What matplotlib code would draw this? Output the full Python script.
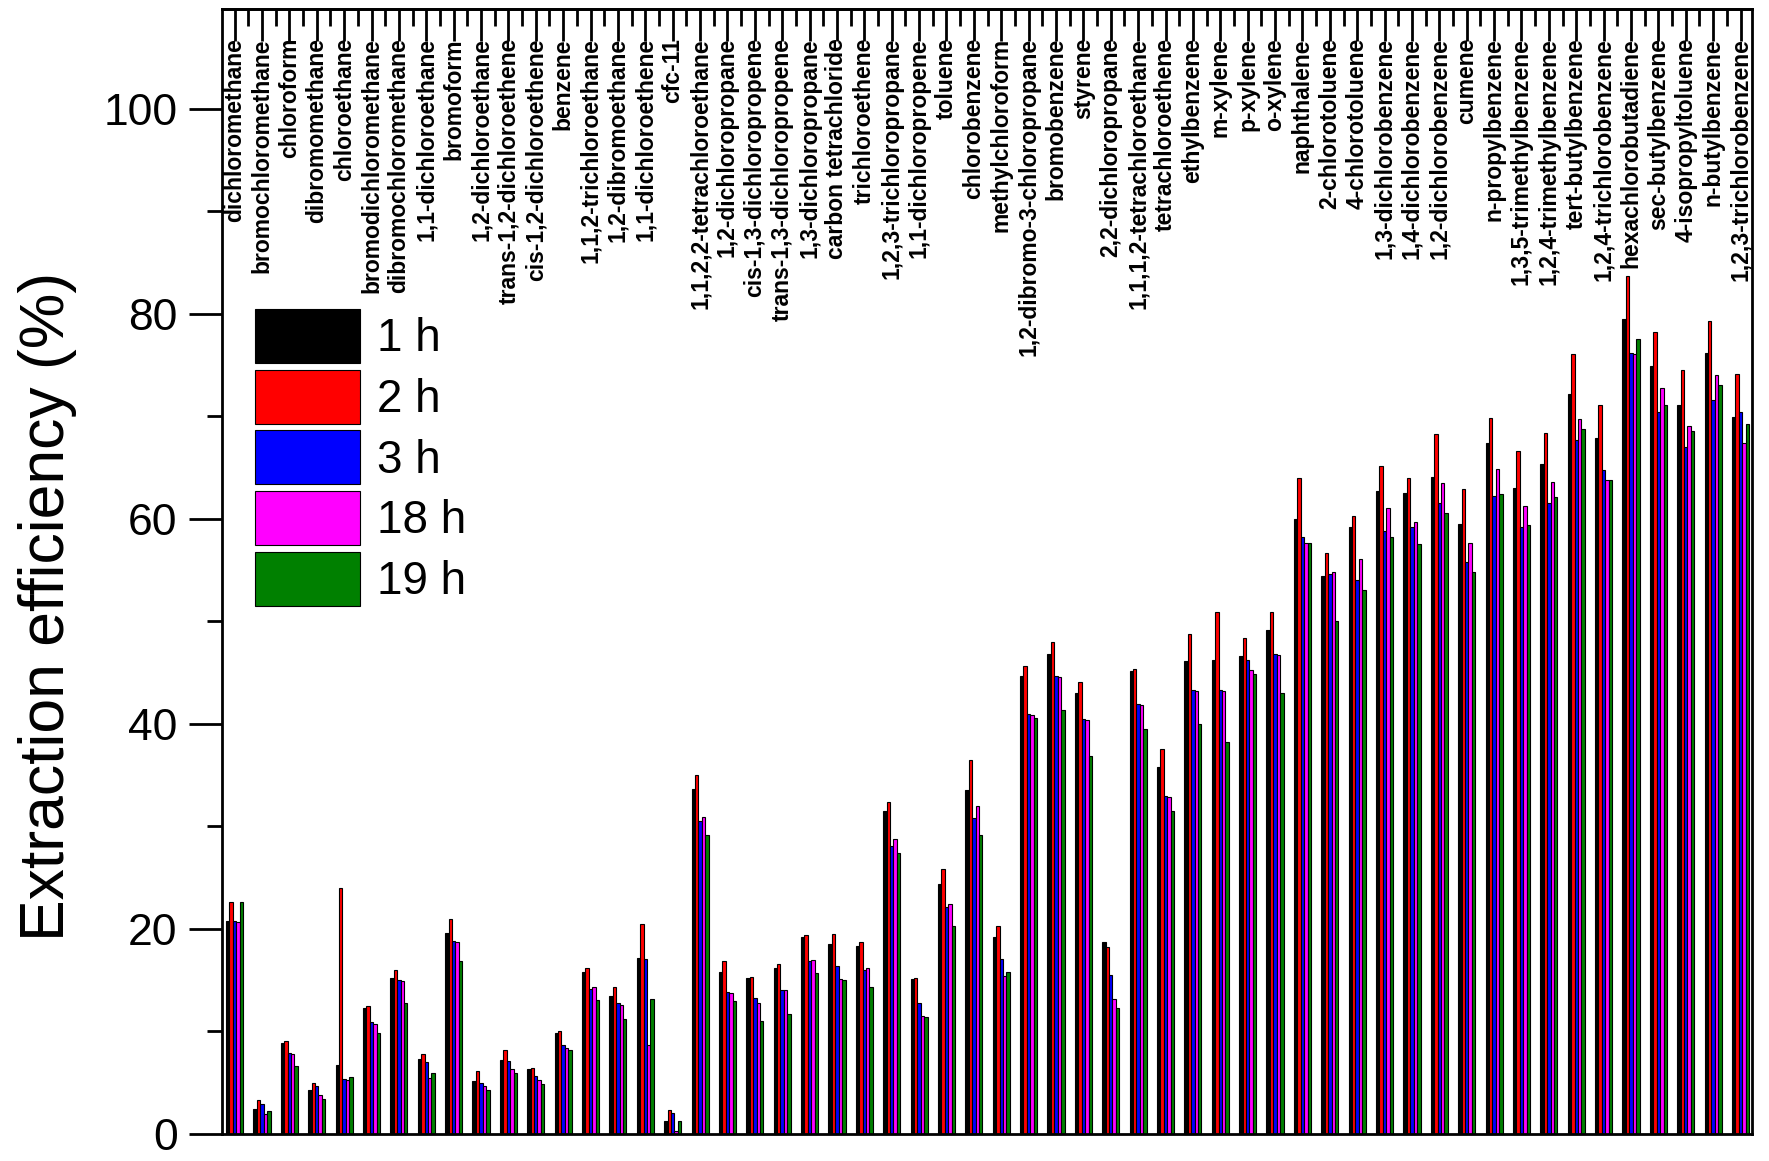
import numpy as np
import matplotlib.pyplot as plt

plt.rcParams['font.family'] = ['Liberation Sans', 'DejaVu Sans']

compounds = [
    "dichloromethane", "bromochloromethane", "chloroform", "dibromomethane",
    "chloroethane", "bromodichloromethane", "dibromochloromethane",
    "1,1-dichloroethane", "bromoform", "1,2-dichloroethane",
    "trans-1,2-dichloroethene", "cis-1,2-dichloroethene", "benzene",
    "1,1,2-trichloroethane", "1,2-dibromoethane", "1,1-dichloroethene",
    "cfc-11", "1,1,2,2-tetrachloroethane", "1,2-dichloropropane",
    "cis-1,3-dichloropropene", "trans-1,3-dichloropropene",
    "1,3-dichloropropane", "carbon tetrachloride", "trichloroethene",
    "1,2,3-trichloropropane", "1,1-dichloropropene", "toluene",
    "chlorobenzene", "methylchloroform", "1,2-dibromo-3-chloropropane",
    "bromobenzene", "styrene", "2,2-dichloropropane",
    "1,1,1,2-tetrachloroethane", "tetrachloroethene", "ethylbenzene",
    "m-xylene", "p-xylene", "o-xylene", "naphthalene", "2-chlorotoluene",
    "4-chlorotoluene", "1,3-dichlorobenzene", "1,4-dichlorobenzene",
    "1,2-dichlorobenzene", "cumene", "n-propylbenzene",
    "1,3,5-trimethylbenzene", "1,2,4-trimethylbenzene", "tert-butylbenzene",
    "1,2,4-trichlorobenzene", "hexachlorobutadiene", "sec-butylbenzene",
    "4-isopropyltoluene", "n-butylbenzene", "1,2,3-trichlorobenzene",
]

h1 = [20.8, 2.4, 8.9, 4.3, 6.7, 12.3, 15.2, 7.35, 19.6, 5.2,
      7.2, 6.3, 9.8, 15.8, 13.5, 17.2, 1.3, 33.6, 15.8, 15.2,
      16.2, 19.2, 18.5, 18.3, 31.5, 15.15, 24.4, 33.5, 19.25, 44.7,
      46.8, 43.05, 18.7, 45.1, 35.8, 46.1, 46.2, 46.6, 49.1, 60.0,
      54.4, 59.2, 62.7, 62.5, 64.1, 59.5, 67.4, 63.0, 65.3, 72.2,
      67.9, 79.5, 74.9, 71.1, 76.2, 69.9]
h2 = [22.6, 3.3, 9.1, 5.0, 24.0, 12.5, 16.0, 7.8, 21.0, 6.1,
      8.2, 6.4, 10.0, 16.2, 14.3, 20.5, 2.3, 35.0, 16.9, 15.3,
      16.55, 19.4, 19.5, 18.7, 32.4, 15.2, 25.8, 36.5, 20.3, 45.6,
      48.0, 44.1, 18.2, 45.3, 37.5, 48.75, 50.9, 48.4, 50.9, 64.0,
      56.7, 60.3, 65.1, 64.0, 68.3, 62.9, 69.8, 66.6, 68.4, 76.1,
      71.1, 83.7, 78.2, 74.5, 79.25, 74.1]
h3 = [20.8, 2.9, 7.9, 4.65, 5.4, 10.9, 15.0, 7.0, 18.8, 5.0,
      7.1, 5.66, 8.7, 14.1, 12.8, 17.1, 2.0, 30.5, 13.85, 13.3,
      14.0, 16.9, 16.4, 16.0, 28.1, 12.8, 22.1, 30.8, 17.1, 41.0,
      44.7, 40.5, 15.5, 41.9, 33.0, 43.3, 43.3, 46.2, 46.8, 58.2,
      54.6, 54.0, 58.8, 59.2, 61.5, 55.8, 62.2, 59.2, 61.5, 67.7,
      64.75, 76.2, 70.4, 67.0, 71.6, 70.4]
h18 = [20.7, 1.9, 7.8, 3.8, 5.3, 10.7, 14.9, 5.5, 18.7, 4.7,
       6.3, 5.3, 8.4, 14.3, 12.6, 8.65, 0.3, 30.9, 13.7, 12.8,
       14.0, 17.0, 15.1, 16.2, 28.8, 11.5, 22.4, 32.0, 15.4, 40.9,
       44.6, 40.4, 13.2, 41.8, 32.9, 43.2, 43.2, 45.2, 46.7, 57.6,
       54.8, 56.1, 61.0, 59.7, 63.5, 57.6, 64.8, 61.2, 63.6, 69.7,
       63.8, 76.1, 72.7, 69.0, 74.0, 67.4]
h19 = [22.6, 2.2, 6.6, 3.4, 5.56, 9.8, 12.8, 5.9, 16.9, 4.3,
       5.9, 4.85, 8.2, 13.1, 11.2, 13.2, 1.27, 29.2, 13.0, 11.0,
       11.7, 15.7, 15.0, 14.3, 27.4, 11.4, 20.3, 29.2, 15.8, 40.6,
       41.3, 36.9, 12.3, 39.5, 31.5, 40.0, 38.2, 44.85, 43.0, 57.6,
       50.0, 53.0, 58.2, 57.5, 60.6, 54.8, 62.4, 59.4, 62.1, 68.7,
       63.8, 77.5, 71.1, 68.6, 73.0, 69.2]

series = [h1, h2, h3, h18, h19]
labels = ["1 h", "2 h", "3 h", "18 h", "19 h"]
colors = ["#000000", "#ff0000", "#0000ff", "#ff00ff", "#008000"]

fig = plt.figure(figsize=(17.69, 11.61), dpi=100)
ax = fig.add_axes([0.1255, 0.0233, 0.8649, 0.9689])

x = np.arange(len(compounds))
w = 0.125
for i, (vals, lab, col) in enumerate(zip(series, labels, colors)):
    ax.bar(x + (i - 2) * w, vals, width=w, color=col, edgecolor="black",
           linewidth=0.8, label=lab)

ax.set_xlim(-0.46, len(compounds) - 1 + 0.42)
ax.set_ylim(0, 109.7)

# y axis
ax.set_yticks(np.arange(0, 101, 20))
ax.set_yticks(np.arange(10, 101, 20), minor=True)
ax.tick_params(axis="y", which="major", direction="out", length=24, width=2,
               labelsize=32, pad=8)
ax.tick_params(axis="y", which="minor", direction="out", length=11, width=2)
ax.set_ylabel("Extraction efficiency (%)", fontsize=45)
ax.yaxis.set_label_coords(-0.095, 0.469)

# compound names along the top, inside the axes
ax.set_xticks([])
top = ax.secondary_xaxis("top")
top.set_xticks(x)
top.set_xticks(x[:-1] + 0.5, minor=True)
top.set_xticklabels([])
top.tick_params(which="major", direction="in", length=23, width=2)
top.tick_params(which="minor", direction="in", length=12, width=2)
for xi, name in zip(x, compounds):
    ax.text(xi, 1 - 29 / 1125, name, transform=ax.get_xaxis_transform(),
            rotation=90, ha="center", va="top", fontsize=16.5,
            fontweight="bold")

for s in ax.spines.values():
    s.set_linewidth(2)
top.spines["top"].set_linewidth(2)

ax.legend(loc="upper left", bbox_to_anchor=(0.0216, 0.7333), frameon=False,
          fontsize=33, handlelength=2.3, handleheight=1.43,
          handletextpad=0.35, labelspacing=0.15, borderpad=0,
          borderaxespad=0)

fig.savefig("out.png", dpi=100)
